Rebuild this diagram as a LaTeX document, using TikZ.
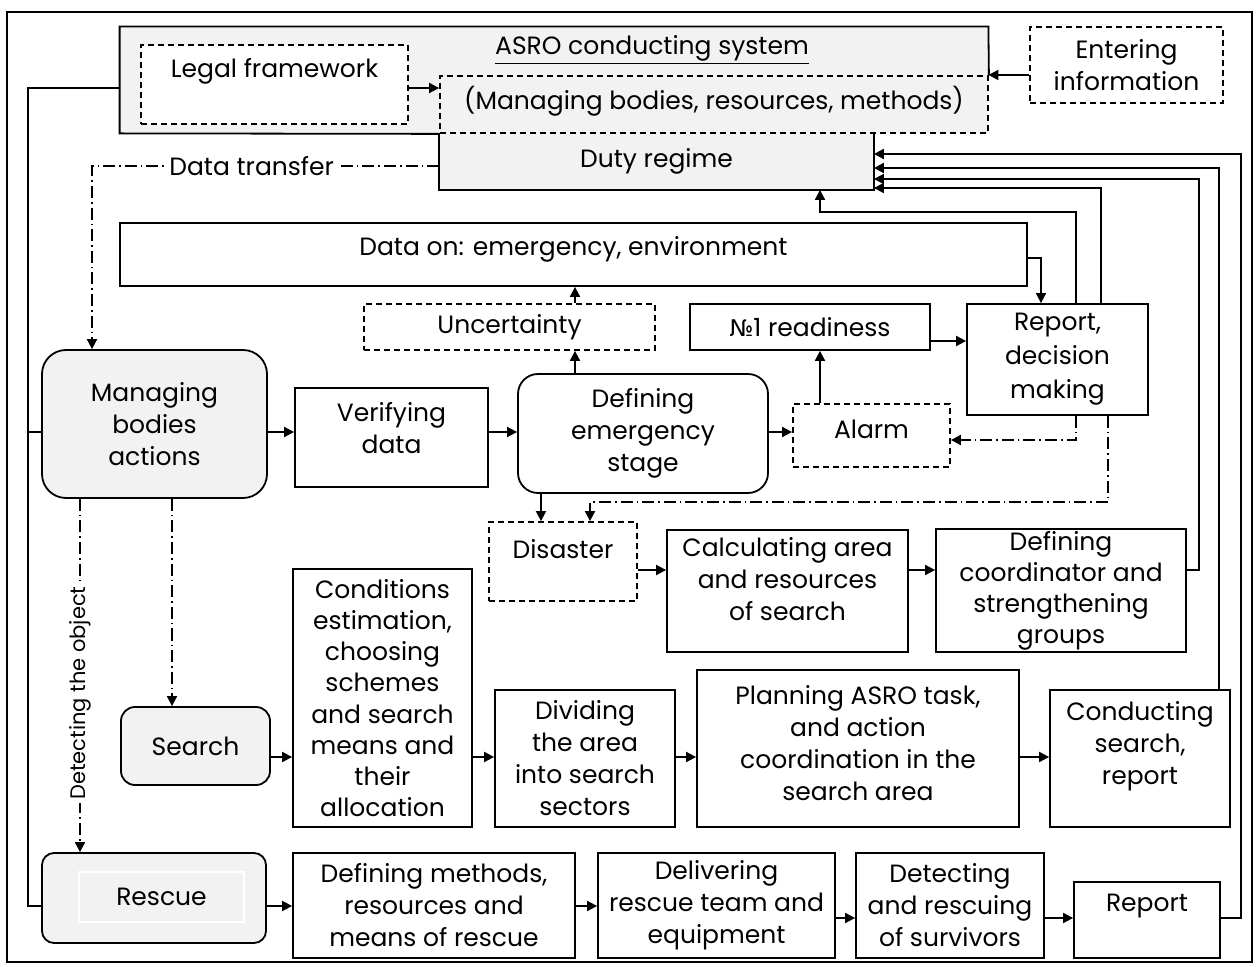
\documentclass[tikz,border=0pt]{standalone}
\usepackage{fontspec}
\setmainfont{Poppins}
\newfontfamily\numfont{DejaVu Sans}[Scale=0.92]
\usetikzlibrary{arrows.meta}

\definecolor{boxgrey}{HTML}{F2F2F2}

\tikzset{
	box/.style={draw, line width=0.9pt, align=center, inner sep=1.5pt},
	dbox/.style={box, dash pattern=on 3pt off 2pt},
	gbox/.style={box, fill=boxgrey},
	lift/.style={text depth=#1},
	ln/.style={line width=0.9pt},
	arr/.style={line width=0.9pt, -{Triangle[length=5pt,width=5pt]}},
	dd/.style={line width=0.9pt, dash pattern=on 6pt off 2pt on 0.8pt off 2pt},
}

\begin{document}
\begin{tikzpicture}[x=0.5pt, y=-0.5pt, font=\fontsize{12.5}{16}\selectfont]
	\useasboundingbox (0,0) rectangle (1258,967);
	\draw[ln] (7,12) rectangle (1252,962);

	% ASRO conducting system
	\node[fill=boxgrey, minimum width=434pt, minimum height=53pt] (asro) at (554,80) {};
	\node[gbox, draw=none, minimum width=216.5pt, minimum height=27.5pt] (duty) at (656.5,161.5) {Duty regime};
	\node[dbox, fill=boxgrey, minimum width=274pt, minimum height=28.5pt, lift=7pt] (mng) at (714,104.5) {(Managing bodies, resources, methods)};
	\node[dbox, fill=white, minimum width=133.5pt, minimum height=39.5pt, lift=17pt] (legal) at (274.5,84.5) {Legal framework};
	\node (title) at (652,50) {\underline{ASRO conducting system}};
	\draw[ln] (mng.north east) -- (asro.north east) -- (asro.north west) -- (asro.south west) -- (mng.south west);
	\draw[ln] (duty.north west) |- (duty.south east) -- (duty.north east);
	\node[dbox, minimum width=96.5pt, minimum height=38pt] (entering) at (1126.5,65) {Entering\\information};

	\node[box, minimum width=453.5pt, minimum height=31.5pt, lift=9pt] (dataon) at (573.5,254.5) {Data on: emergency, environment};
	\node[dbox, minimum width=145.5pt, minimum height=23pt, inner sep=0pt] (uncert) at (509.5,327) {Uncertainty};
	\node[box, minimum width=120pt, minimum height=23pt, inner sep=0pt] (ready) at (810,327) {{\numfont №}1 readiness};
	\node[box, minimum width=90.5pt, minimum height=55.5pt, font=\fontsize{12.5}{17}\selectfont] (decision) at (1057.5,359.5) {Report,\\decision\\making};

	\node[gbox, rounded corners=12pt, minimum width=112.5pt, minimum height=74pt] (mba) at (154.5,424) {Managing\\bodies\\actions};
	\node[box, minimum width=96.5pt, minimum height=49.5pt, lift=10pt] (verify) at (391.5,437.5) {Verifying\\data};
	\node[box, rounded corners=10pt, minimum width=125pt, minimum height=59.5pt] (stage) at (643,433.5) {Defining\\emergency\\stage};
	\node[dbox, minimum width=78.5pt, minimum height=31.5pt, lift=6pt] (alarm) at (871.5,435.5) {Alarm};

	\node[dbox, minimum width=74pt, minimum height=39.5pt, lift=13pt] (disaster) at (563,561.5) {Disaster};
	\node[box, minimum width=120.5pt, minimum height=61pt, lift=12pt] (calc) at (787.5,591) {Calculating area\\and resources\\of search};
	\node[box, minimum width=125pt, minimum height=61.5pt, inner sep=0pt, font=\fontsize{12.5}{15.5}\selectfont] (coord) at (1061,590.5) {Defining\\coordinator and\\strengthening\\groups};

	\node[gbox, rounded corners=7pt, minimum width=74.5pt, minimum height=39pt] (search) at (195.5,746) {Search};
	\node[box, minimum width=89.5pt, minimum height=129pt, font=\fontsize{12.5}{15.6}\selectfont] (cond) at (382.5,698) {Conditions\\estimation,\\choosing\\schemes\\and search\\means and\\their\\allocation};
	\node[box, minimum width=90pt, minimum height=68.5pt] (divide) at (585,758.5) {Dividing\\the area\\into search\\sectors};
	\node[box, minimum width=161pt, minimum height=78.5pt, lift=6pt] (plan) at (858,748.5) {Planning ASRO task,\\and action\\coordination in the\\search area};
	\node[box, minimum width=90pt, minimum height=68.5pt, lift=16pt] (conduct) at (1140,758.5) {Conducting\\search,\\report};

	\node[gbox, rounded corners=6pt, minimum width=112pt, minimum height=45pt] (rescue) at (154,898) {};
	\node[fill=boxgrey, draw=white, line width=0.6pt, minimum width=82.5pt, minimum height=25pt] (rescuetxt) at (161.5,897) {Rescue};
	\node[box, minimum width=141pt, minimum height=52.5pt] (methods) at (434,905.5) {Defining methods,\\resources and\\means of rescue};
	\node[box, minimum width=118.5pt, minimum height=52.5pt] (deliver) at (716.5,905.5) {Delivering\\rescue team and\\equipment};
	\node[box, minimum width=94pt, minimum height=52.5pt] (survivors) at (950,905.5) {Detecting\\and rescuing\\of survivors};
	\node[box, minimum width=73pt, minimum height=38pt, lift=17pt] (report) at (1147,920) {Report};

	% connectors
	\draw[arr] (legal.east |- 0,88) -- (mng.west |- 0,88);
	\draw[arr] (entering.west |- 0,75) -- (asro.east |- 0,75);
	\draw[dd, arr] (duty.west |- 0,166) -| node[pos=0.27, fill=white, inner sep=1.5pt] (transfer) {Data transfer} (mba.north -| 92,0);
	\draw[ln] (asro.west |- 0,88) -| (28,906) -- (rescue.west |- 0,906);
	\draw[ln] (28,432) -- (mba.west |- 0,432);

	\draw[arr] (dataon.east |- 0,258) -| (decision.north -| 1041,0);
	\draw[arr] (uncert.north -| 575,0) -- (dataon.south -| 575,0);
	\draw[arr] (stage.north -| 575,0) -- (uncert.south -| 575,0);
	\draw[arr] (ready.east |- 0,341) -- (decision.west |- 0,341);
	\draw[arr] (decision.north -| 1076,0) |- (820,212) -- (duty.south -| 820,0);
	\draw[arr] (decision.north -| 1101,0) |- (duty.east |- 0,188);
	\draw[arr] (coord.east |- 0,570) -| (1199,179) -- (duty.east |- 0,179);
	\draw[arr] (conduct.north -| 1219,0) |- (duty.east |- 0,168);
	\draw[arr] (report.east |- 0,918) -| (1241,154) -- (duty.east |- 0,154);

	\draw[arr] (mba.east |- 0,432) -- (verify.west |- 0,432);
	\draw[arr] (verify.east |- 0,432) -- (stage.west |- 0,432);
	\draw[arr] (stage.east |- 0,432) -- (alarm.west |- 0,432);
	\draw[arr] (alarm.north -| 820,0) -- (ready.south -| 820,0);
	\draw[dd, arr] (decision.south -| 1076,0) |- (alarm.east |- 0,440);
	\draw[dd, arr] (decision.south -| 1108,0) |- (590,502) -- (disaster.north -| 590,0);
	\draw[arr] (stage.south -| 541,0) -- (disaster.north -| 541,0);

	\draw[arr] (disaster.east |- 0,570) -- (calc.west |- 0,570);
	\draw[arr] (calc.east |- 0,570) -- (coord.west |- 0,570);

	\draw[dd, arr] (mba.south -| 172,0) -- (search.north -| 172,0);
	\draw[dd, arr] (mba.south -| 80,0) -- node[pos=0.55, rotate=90, fill=white, inner sep=1.5pt, font=\fontsize{10.5}{12}\selectfont] (detect) {Detecting the object} (rescue.north -| 80,0);
	\draw[arr] (search.east |- 0,757) -- (cond.west |- 0,757);
	\draw[arr] (cond.east |- 0,757) -- (divide.west |- 0,757);
	\draw[arr] (divide.east |- 0,757) -- (plan.west |- 0,757);
	\draw[arr] (plan.east |- 0,757) -- (conduct.west |- 0,757);

	\draw[arr] (rescue.east |- 0,906) -- (methods.west |- 0,906);
	\draw[arr] (methods.east |- 0,906) -- (deliver.west |- 0,906);
	\draw[arr] (deliver.east |- 0,918) -- (survivors.west |- 0,918);
	\draw[arr] (survivors.east |- 0,918) -- (report.west |- 0,918);
\end{tikzpicture}
\end{document}
